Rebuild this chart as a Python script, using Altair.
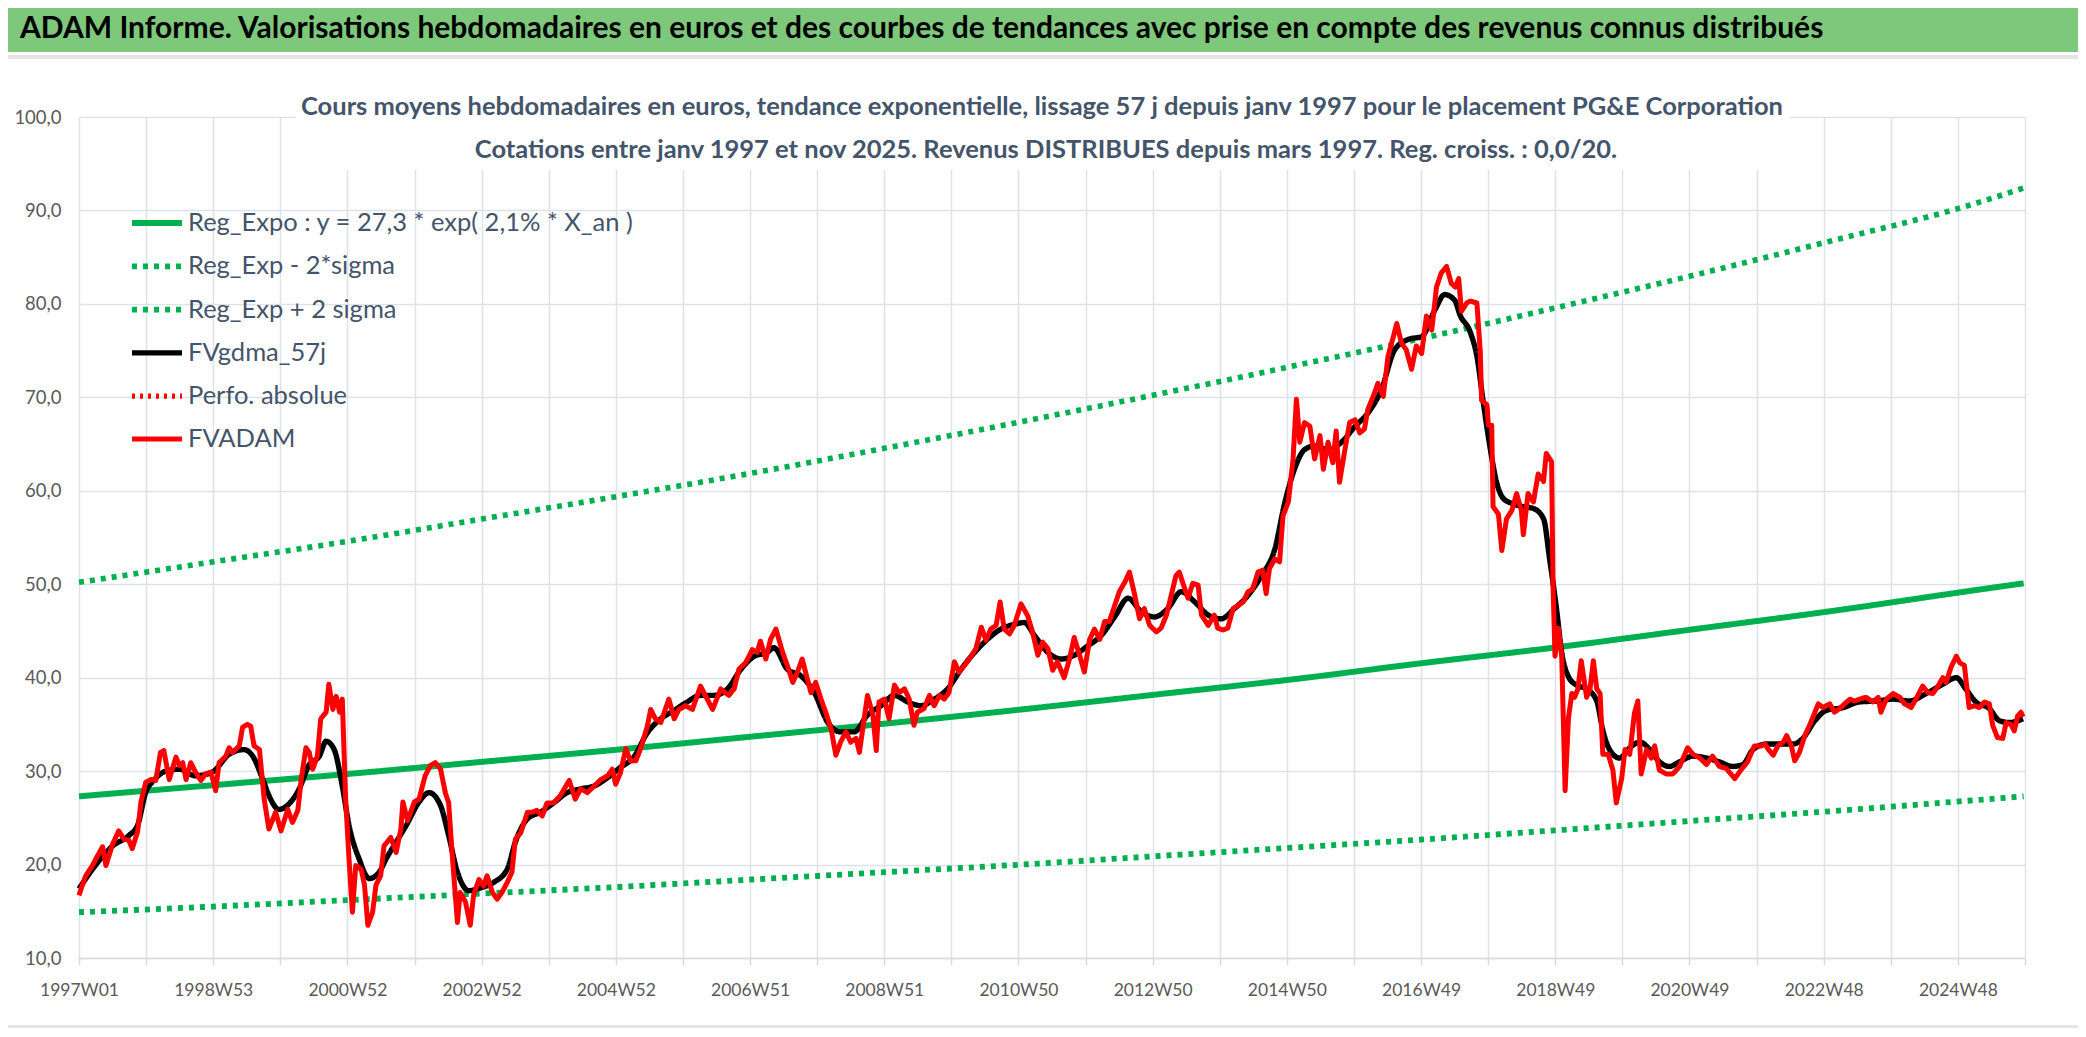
import altair as alt
import pandas as pd

FONT = "Lato"

series_names = [
    "Reg_Expo : y = 27,3 * exp( 2,1% *  X_an )",
    "Reg_Exp - 2*sigma",
    "Reg_Exp + 2 sigma",
    "FVgdma_57j",
    "Perfo. absolue",
    "FVADAM",
]
series_colors = ["#00B050", "#00B050", "#00B050", "#000000", "#FF0000", "#FF0000"]
series_dash = [[1, 0], [5, 6], [5, 6], [1, 0], [3, 5], [1, 0]]
series_width = [6, 5, 5, 4.5, 4, 6.5]

x_labels = ["1997W01", "1998W53", "2000W52", "2002W52", "2004W52", "2006W51", "2008W51",
            "2010W50", "2012W50", "2014W50", "2016W49", "2018W49", "2020W49", "2022W48", "2024W48"]

trend_year = [1997, 1999, 2001, 2003, 2005, 2007, 2009, 2011, 2013, 2015, 2017, 2019, 2021, 2023, 2025, 2025.88]
trend_mid = [27.3, 28.5, 29.7, 31.0, 32.3, 33.7, 35.1, 36.6, 38.2, 39.8, 41.6, 43.3, 45.2, 47.1, 49.2, 50.1]
trend_low = [14.9, 15.5, 16.2, 16.9, 17.6, 18.4, 19.2, 20.0, 20.9, 21.8, 22.7, 23.7, 24.7, 25.7, 26.8, 27.3]
trend_high = [50.2, 52.4, 54.6, 57.0, 59.4, 61.9, 64.6, 67.4, 70.3, 73.3, 76.4, 79.7, 83.1, 86.7, 90.4, 92.4]

red_year = [
    1997.00, 1997.05, 1997.10, 1997.20, 1997.25, 1997.35, 1997.40, 1997.50, 1997.59, 1997.67,
    1997.74, 1997.79, 1997.87, 1997.92, 1997.99, 1998.07, 1998.14, 1998.21, 1998.26, 1998.34,
    1998.44, 1998.49, 1998.54, 1998.59, 1998.66, 1998.73, 1998.81, 1998.88, 1998.96, 1999.03,
    1999.08, 1999.18, 1999.23, 1999.28, 1999.38, 1999.43, 1999.50, 1999.55, 1999.60, 1999.68,
    1999.75, 1999.82, 1999.92, 2000.00, 2000.10, 2000.17, 2000.25, 2000.30, 2000.37, 2000.42,
    2000.47, 2000.54, 2000.59, 2000.67, 2000.71, 2000.77, 2000.82, 2000.87, 2000.91, 2000.96,
    2001.01, 2001.06, 2001.11, 2001.19, 2001.24, 2001.29, 2001.36, 2001.41, 2001.48, 2001.53,
    2001.63, 2001.71, 2001.78, 2001.81, 2001.88, 2001.98, 2002.05, 2002.14, 2002.22, 2002.29,
    2002.37, 2002.44, 2002.49, 2002.54, 2002.62, 2002.66, 2002.74, 2002.81, 2002.86, 2002.94,
    2003.01, 2003.06, 2003.14, 2003.21, 2003.28, 2003.36, 2003.43, 2003.48, 2003.56, 2003.66,
    2003.73, 2003.80, 2003.88, 2003.95, 2004.05, 2004.15, 2004.28, 2004.37, 2004.45, 2004.55,
    2004.65, 2004.75, 2004.85, 2004.92, 2004.97, 2005.04, 2005.12, 2005.19, 2005.27, 2005.34,
    2005.44, 2005.49, 2005.56, 2005.64, 2005.76, 2005.84, 2005.91, 2006.01, 2006.11, 2006.23,
    2006.33, 2006.41, 2006.53, 2006.65, 2006.73, 2006.80, 2006.90, 2007.00, 2007.07, 2007.12,
    2007.20, 2007.27, 2007.35, 2007.45, 2007.52, 2007.60, 2007.67, 2007.74, 2007.79, 2007.87,
    2007.94, 2008.02, 2008.09, 2008.17, 2008.24, 2008.31, 2008.39, 2008.46, 2008.54, 2008.59,
    2008.66, 2008.71, 2008.79, 2008.84, 2008.88, 2008.96, 2009.03, 2009.11, 2009.18, 2009.26,
    2009.33, 2009.40, 2009.45, 2009.55, 2009.63, 2009.70, 2009.78, 2009.85, 2009.92, 2010.00,
    2010.07, 2010.15, 2010.22, 2010.32, 2010.40, 2010.47, 2010.54, 2010.62, 2010.68, 2010.74,
    2010.82, 2010.89, 2010.99, 2011.09, 2011.16, 2011.24, 2011.31, 2011.39, 2011.46, 2011.53,
    2011.63, 2011.71, 2011.78, 2011.86, 2011.93, 2012.01, 2012.08, 2012.16, 2012.23, 2012.30,
    2012.38, 2012.45, 2012.53, 2012.60, 2012.68, 2012.75, 2012.82, 2012.90, 2013.00, 2013.07,
    2013.15, 2013.22, 2013.29, 2013.34, 2013.39, 2013.47, 2013.54, 2013.62, 2013.67, 2013.77,
    2013.86, 2013.91, 2013.99, 2014.06, 2014.14, 2014.21, 2014.29, 2014.36, 2014.43, 2014.51,
    2014.58, 2014.63, 2014.68, 2014.76, 2014.83, 2014.88, 2014.96, 2015.03, 2015.08, 2015.13,
    2015.20, 2015.28, 2015.35, 2015.43, 2015.48, 2015.55, 2015.62, 2015.67, 2015.72, 2015.80,
    2015.87, 2015.95, 2016.02, 2016.09, 2016.14, 2016.22, 2016.29, 2016.37, 2016.44, 2016.52,
    2016.57, 2016.64, 2016.71, 2016.79, 2016.86, 2016.94, 2017.01, 2017.09, 2017.16, 2017.23,
    2017.31, 2017.38, 2017.44, 2017.49, 2017.53, 2017.61, 2017.66, 2017.76, 2017.81, 2017.83,
    2017.91, 2017.93, 2017.98, 2018.00, 2018.08, 2018.13, 2018.20, 2018.28, 2018.35, 2018.42,
    2018.45, 2018.52, 2018.60, 2018.67, 2018.75, 2018.79, 2018.87, 2018.89, 2018.92, 2018.97,
    2019.02, 2019.07, 2019.12, 2019.17, 2019.21, 2019.26, 2019.31, 2019.39, 2019.44, 2019.49,
    2019.54, 2019.59, 2019.63, 2019.71, 2019.78, 2019.83, 2019.91, 2019.96, 2020.03, 2020.10,
    2020.15, 2020.20, 2020.28, 2020.35, 2020.40, 2020.47, 2020.57, 2020.67, 2020.77, 2020.89,
    2020.97, 2021.07, 2021.17, 2021.26, 2021.36, 2021.46, 2021.59, 2021.68, 2021.78, 2021.88,
    2021.98, 2022.04, 2022.08, 2022.16, 2022.23, 2022.31, 2022.36, 2022.43, 2022.48, 2022.55,
    2022.63, 2022.70, 2022.78, 2022.83, 2022.90, 2023.00, 2023.07, 2023.15, 2023.22, 2023.30,
    2023.37, 2023.44, 2023.54, 2023.64, 2023.72, 2023.76, 2023.84, 2023.94, 2024.04, 2024.11,
    2024.21, 2024.28, 2024.38, 2024.46, 2024.53, 2024.60, 2024.68, 2024.73, 2024.80, 2024.88,
    2024.93, 2025.00, 2025.07, 2025.15, 2025.22, 2025.30, 2025.37, 2025.42, 2025.49, 2025.57,
    2025.62, 2025.69, 2025.74, 2025.79, 2025.84, 2025.87,
]
red_val = [
    16.7, 17.8, 18.8, 19.9, 20.6, 21.9, 19.9, 22.2, 23.6, 22.7,
    22.6, 21.7, 23.5, 26.7, 28.8, 29.1, 29.0, 32.0, 32.2, 29.1,
    31.5, 30.6, 30.9, 29.1, 30.9, 29.9, 29.0, 29.7, 29.9, 27.9,
    30.9, 31.6, 32.5, 32.0, 32.7, 34.7, 35.0, 34.8, 32.7, 32.3,
    27.0, 23.8, 25.6, 23.6, 25.9, 24.5, 25.8, 29.1, 32.5, 32.0,
    30.2, 31.6, 35.6, 36.3, 39.3, 36.6, 38.0, 36.3, 37.7, 27.0,
    20.6, 14.9, 19.9, 19.5, 17.8, 13.5, 14.9, 17.8, 18.8, 22.0,
    22.9, 21.3, 23.8, 26.7, 24.7, 26.7, 27.0, 29.5, 30.6, 30.9,
    30.2, 27.7, 26.6, 21.3, 13.8, 17.0, 16.0, 13.5, 16.7, 18.4,
    17.7, 18.8, 17.0, 16.3, 17.0, 18.1, 19.2, 22.7, 23.4, 25.6,
    25.6, 25.8, 25.2, 26.6, 26.6, 27.4, 29.0, 27.0, 28.1, 27.7,
    28.4, 29.1, 29.5, 30.2, 28.6, 29.8, 32.4, 31.1, 31.1, 32.4,
    34.8, 36.6, 35.6, 35.2, 37.7, 35.6, 36.6, 37.0, 36.6, 39.1,
    37.7, 36.6, 38.8, 38.1, 38.8, 40.9, 41.6, 43.0, 42.7, 43.9,
    42.0, 44.1, 45.2, 42.7, 41.3, 39.5, 40.6, 42.0, 40.6, 38.4,
    39.5, 37.7, 36.3, 34.5, 31.7, 33.1, 34.2, 33.1, 33.5, 32.0,
    35.6, 38.1, 36.0, 32.2, 37.4, 37.7, 35.6, 39.2, 38.4, 38.8,
    37.7, 34.9, 36.3, 36.7, 38.1, 37.0, 38.1, 37.7, 38.4, 41.7,
    40.6, 41.3, 42.0, 43.1, 45.4, 44.0, 45.2, 45.6, 48.1, 45.2,
    44.7, 45.6, 47.9, 46.6, 44.9, 42.4, 43.8, 43.1, 40.8, 41.7,
    40.0, 42.0, 44.3, 42.4, 40.6, 44.1, 45.2, 44.1, 46.0, 46.0,
    47.7, 49.2, 50.2, 51.3, 48.8, 46.3, 47.4, 45.6, 44.9, 45.3,
    46.7, 48.8, 50.9, 51.3, 50.2, 48.5, 50.1, 49.9, 46.7, 45.6,
    46.7, 45.3, 45.1, 45.3, 47.4, 47.7, 48.1, 49.2, 49.5, 51.3,
    51.5, 49.0, 51.7, 52.7, 52.4, 57.3, 58.8, 63.4, 69.8, 65.2,
    67.3, 66.9, 63.4, 65.9, 62.3, 65.2, 63.0, 66.4, 60.9, 64.4,
    67.3, 67.6, 66.2, 66.6, 68.7, 70.1, 71.5, 70.1, 74.4, 76.5,
    77.9, 75.8, 75.1, 73.0, 75.5, 74.7, 78.7, 77.2, 81.8, 83.3,
    84.0, 82.2, 81.8, 82.7, 79.2, 80.1, 80.3, 80.1, 74.9, 69.7,
    69.2, 67.0, 67.0, 58.3, 57.5, 53.6, 57.0, 57.9, 59.7, 57.9,
    55.3, 59.7, 58.8, 61.8, 61.0, 64.0, 63.1, 50.1, 42.3, 45.3,
    42.3, 27.9, 35.7, 38.3, 37.9, 38.8, 41.8, 37.9, 38.8, 41.8,
    38.8, 38.3, 31.8, 31.8, 30.1, 26.6, 29.2, 32.3, 31.8, 36.2,
    37.5, 29.7, 32.3, 31.4, 32.7, 30.1, 29.7, 29.7, 30.5, 32.5,
    31.8, 31.4, 30.7, 31.6, 30.5, 30.3, 29.2, 30.1, 31.0, 32.7,
    32.7, 32.9, 32.4, 31.7, 32.7, 33.1, 33.8, 32.7, 31.1, 32.0,
    33.8, 34.9, 36.3, 37.2, 36.8, 37.2, 36.3, 36.7, 37.2, 37.7,
    37.5, 37.7, 37.9, 37.4, 37.9, 36.3, 37.7, 38.3, 37.9, 37.2,
    36.8, 37.7, 39.1, 38.4, 38.3, 39.0, 40.0, 39.5, 41.1, 42.3,
    41.6, 41.3, 36.8, 37.0, 36.8, 37.4, 37.2, 34.9, 33.6, 33.5,
    35.2, 35.0, 34.3, 35.9, 36.3, 35.8,
]

black_year = [
    1997.00, 1997.20, 1997.50, 1997.74, 1997.87, 1997.99, 1998.11, 1998.29, 1998.49, 1998.73,
    1998.98, 1999.23, 1999.45, 1999.58, 1999.73, 1999.82, 1999.97, 2000.12, 2000.27, 2000.42,
    2000.57, 2000.67, 2000.79, 2000.91, 2001.01, 2001.16, 2001.31, 2001.46, 2001.56, 2001.71,
    2001.86, 2002.05, 2002.20, 2002.37, 2002.49, 2002.62, 2002.79, 2002.96, 2003.16, 2003.36,
    2003.48, 2003.66, 2003.85, 2004.05, 2004.25, 2004.45, 2004.65, 2004.85, 2005.04, 2005.24,
    2005.44, 2005.64, 2005.84, 2006.03, 2006.23, 2006.43, 2006.63, 2006.83, 2007.03, 2007.22,
    2007.32, 2007.52, 2007.72, 2007.92, 2008.12, 2008.31, 2008.51, 2008.71, 2008.91, 2009.11,
    2009.31, 2009.50, 2009.70, 2009.90, 2010.10, 2010.30, 2010.49, 2010.69, 2010.89, 2011.04,
    2011.19, 2011.39, 2011.59, 2011.78, 2011.98, 2012.18, 2012.38, 2012.58, 2012.77, 2012.97,
    2013.17, 2013.37, 2013.57, 2013.77, 2013.96, 2014.16, 2014.36, 2014.56, 2014.76, 2014.91,
    2015.05, 2015.20, 2015.35, 2015.55, 2015.75, 2015.95, 2016.14, 2016.34, 2016.54, 2016.74,
    2016.94, 2017.14, 2017.28, 2017.43, 2017.51, 2017.66, 2017.76, 2017.86, 2017.95, 2018.05,
    2018.15, 2018.30, 2018.45, 2018.60, 2018.75, 2018.84, 2018.94, 2019.02, 2019.12, 2019.24,
    2019.39, 2019.54, 2019.63, 2019.73, 2019.88, 2020.03, 2020.18, 2020.33, 2020.47, 2020.62,
    2020.77, 2020.97, 2021.17, 2021.36, 2021.56, 2021.71, 2021.86, 2022.06, 2022.26, 2022.46,
    2022.60, 2022.78, 2022.95, 2023.20, 2023.44, 2023.69, 2023.94, 2024.18, 2024.43, 2024.68,
    2024.88, 2025.02, 2025.17, 2025.37, 2025.52, 2025.67, 2025.87,
]
black_val = [
    17.4, 19.5, 22.0, 23.1, 24.2, 27.7, 29.0, 30.0, 30.2, 29.5,
    29.9, 31.8, 32.3, 31.6, 29.1, 27.4, 25.9, 26.5, 28.1, 30.7,
    31.6, 33.2, 32.3, 28.4, 24.2, 20.6, 18.5, 19.2, 20.6, 22.4,
    24.2, 26.7, 27.7, 26.3, 23.1, 19.2, 17.2, 17.5, 18.1, 19.5,
    22.4, 24.9, 25.6, 26.6, 27.7, 28.1, 28.4, 29.3, 30.4, 31.5,
    34.1, 35.6, 36.5, 37.4, 38.1, 38.1, 38.8, 40.9, 42.3, 42.7,
    43.2, 40.9, 40.2, 38.4, 35.2, 34.2, 34.2, 36.0, 37.0, 38.1,
    37.4, 37.0, 37.7, 38.8, 40.9, 42.7, 44.1, 45.2, 45.7, 45.9,
    44.5, 42.7, 42.0, 42.4, 43.4, 44.5, 46.5, 48.5, 47.1, 46.5,
    47.4, 49.2, 48.1, 46.7, 46.3, 47.4, 48.8, 50.9, 53.8, 58.8,
    62.3, 64.4, 64.8, 64.4, 65.2, 66.9, 68.3, 70.8, 75.1, 76.2,
    76.5, 79.4, 81.0, 80.4, 78.8, 77.0, 74.4, 69.2, 64.9, 61.0,
    59.2, 58.6, 58.3, 58.1, 57.0, 52.7, 47.5, 42.7, 40.1, 39.2,
    38.8, 37.5, 34.4, 32.3, 31.4, 32.5, 33.1, 32.3, 31.0, 30.5,
    31.0, 31.6, 31.4, 31.0, 30.5, 30.7, 32.3, 32.9, 32.9, 32.9,
    33.5, 35.4, 36.5, 36.8, 37.4, 37.5, 37.7, 37.5, 38.3, 39.3,
    40.0, 38.8, 37.4, 36.7, 35.4, 35.2, 35.6,
]

WEEKS_PER_YEAR = 52.18


def to_week(years):
    return [(y - 1997) * WEEKS_PER_YEAR for y in years]


trend_df = pd.concat([
    pd.DataFrame({"w": to_week(trend_year), "v": trend_mid, "series": series_names[0]}),
    pd.DataFrame({"w": to_week(trend_year), "v": trend_low, "series": series_names[1]}),
    pd.DataFrame({"w": to_week(trend_year), "v": trend_high, "series": series_names[2]}),
])
black_df = pd.DataFrame({"w": to_week(black_year), "v": black_val, "series": series_names[3]})
red_df = pd.DataFrame({"w": to_week(red_year), "v": red_val, "series": series_names[5]})

W, H = 1946, 841
label_js = "[" + ",".join("'%s'" % s for s in x_labels) + "]"

x_enc = alt.X(
    "w:Q",
    scale=alt.Scale(domain=[0, 1508], nice=False, zero=False),
    axis=alt.Axis(
        values=list(range(0, 1509, 52)),
        labelExpr="datum.value % 104 == 0 && datum.value <= 1456 ? " + label_js + "[datum.value / 104] : ''",
        grid=True, gridColor="#DEE2E8", gridWidth=1.5,
        domainColor="#D6D9DE", domainWidth=1.5,
        tickColor="#D6D9DE", tickSize=7, tickWidth=1.5,
        labelFont=FONT, labelFontSize=17.5, labelColor="#595959",
        labelPadding=16, labelOverlap=False, labelFlush=False, title=None,
    ),
)
y_enc = alt.Y(
    "v:Q",
    scale=alt.Scale(domain=[10, 100], nice=False, zero=False),
    axis=alt.Axis(
        values=list(range(10, 101, 10)),
        labelExpr="replace(format(datum.value, '.1f'), '.', ',')",
        grid=True, gridColor="#DEE2E8", gridWidth=1.5,
        domain=False, ticks=False, tickSize=0,
        labelFont=FONT, labelFontSize=18.5, labelColor="#595959",
        labelPadding=18, title=None,
    ),
)

legend = alt.Legend(
    orient="none", legendX=50, legendY=78, title=None,
    symbolType="stroke", symbolSize=2500, rowPadding=1.3, labelOffset=3,
    labelFont=FONT, labelFontSize=25.5, labelColor="#44546A", padding=0,
    labelLimit=700,
)
color_enc = alt.Color("series:N", scale=alt.Scale(domain=series_names, range=series_colors), legend=legend)
dash_enc = alt.StrokeDash("series:N", scale=alt.Scale(domain=series_names, range=series_dash), legend=legend)
width_enc = alt.StrokeWidth("series:N", scale=alt.Scale(domain=series_names, range=series_width), legend=legend)

one = pd.DataFrame({"a": [0]})

green_bar = alt.Chart(one).mark_rect(color="#7DC87B").encode(
    x=alt.value(-71), x2=alt.value(1999), y=alt.value(-109), y2=alt.value(-65))
gray_bar = alt.Chart(one).mark_rect(color="#E4E4E4").encode(
    x=alt.value(-71), x2=alt.value(1999), y=alt.value(-62), y2=alt.value(-58))
white_box = alt.Chart(one).mark_rect(color="white").encode(
    x=alt.value(217), x2=alt.value(1711), y=alt.value(-55), y2=alt.value(53))
bottom_bar = alt.Chart(one).mark_rect(color="#E4E4E4").encode(
    x=alt.value(-71), x2=alt.value(1999), y=alt.value(908), y2=alt.value(911))

main_title = alt.Chart(one).mark_text(
    align="left", baseline="middle", font=FONT, fontSize=30, fontWeight="bold", color="#000000",
    text="ADAM Informe. Valorisations hebdomadaires en euros et des courbes de tendances avec prise en compte des revenus connus distribués",
).encode(x=alt.value(-59), y=alt.value(-88))
sub1 = alt.Chart(one).mark_text(
    align="center", baseline="middle", font=FONT, fontSize=25.5, fontWeight="bold", color="#44546A",
    text="Cours moyens hebdomadaires en euros, tendance exponentielle, lissage 57 j depuis janv 1997 pour le placement PG&E Corporation",
).encode(x=alt.value(963), y=alt.value(-10))
sub2 = alt.Chart(one).mark_text(
    align="center", baseline="middle", font=FONT, fontSize=25.5, fontWeight="bold", color="#44546A",
    text="Cotations entre janv 1997 et nov 2025. Revenus DISTRIBUES depuis mars 1997. Reg. croiss. : 0,0/20.",
).encode(x=alt.value(967), y=alt.value(33))

trend_lines = alt.Chart(trend_df).mark_line(interpolate="monotone", strokeCap="butt").encode(
    x=x_enc, y=y_enc, color=color_enc, strokeDash=dash_enc, strokeWidth=width_enc, detail="series:N")
black_line = alt.Chart(black_df).mark_line(interpolate="monotone", strokeJoin="round").encode(
    x=x_enc, y=y_enc, color=color_enc, strokeDash=dash_enc, strokeWidth=width_enc)
red_line = alt.Chart(red_df).mark_line(strokeJoin="round").encode(
    x=x_enc, y=y_enc, color=color_enc, strokeDash=dash_enc, strokeWidth=width_enc)

chart = alt.layer(
    green_bar, gray_bar, bottom_bar, white_box, trend_lines, black_line, red_line,
    main_title, sub1, sub2,
).properties(
    width=W, height=H,
    autosize=alt.AutoSizeParams(type="none"),
    padding={"left": 71, "top": 109, "right": 53, "bottom": 70},
    background="white",
).configure_view(strokeWidth=0)

chart.save("out.html", embed_options={"renderer": "svg", "actions": False})
